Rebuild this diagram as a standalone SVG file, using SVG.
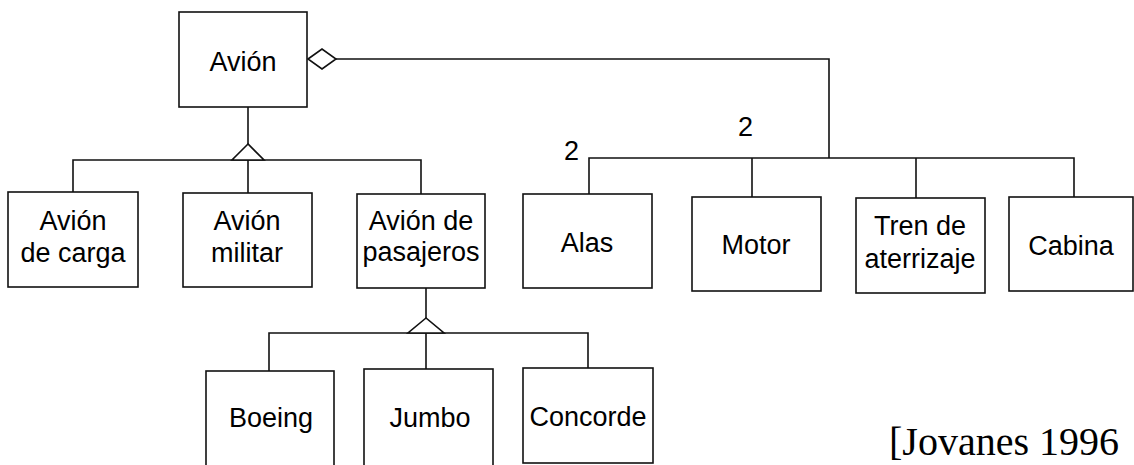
<svg xmlns="http://www.w3.org/2000/svg" width="1134" height="465" viewBox="0 0 1134 465">
<style>
.box{fill:#fff;stroke:#111;stroke-width:1.6}
.ln{fill:none;stroke:#111;stroke-width:1.6}
.sym{fill:#fff;stroke:#111;stroke-width:1.6}
text{font-family:"Liberation Sans",Arial,sans-serif;font-size:27px;fill:#000;text-anchor:middle}
.ref{font-family:"Liberation Serif","Times New Roman",serif;font-size:40px;text-anchor:start}
.mult{text-anchor:start}
</style>
<rect width="1134" height="465" fill="#fff"/>
<g id="connectors">
<path class="ln" d="M336,59 H829 V158"/>
<path class="ln" d="M589,194 V158 H1074 V197 M752,158 V197 M916,158 V198"/>
<path class="ln" d="M248,107 V144"/>
<path class="ln" d="M73,192 V160 H421 V194 M248,160 V193"/>
<polygon class="sym" points="248,144 232,160 264,160"/>
<path class="ln" d="M426,288 V318"/>
<path class="ln" d="M269,371 V333 H588 V368 M426,333 V369"/>
<polygon class="sym" points="426,318 408,333 444,333"/>
<polygon class="sym" points="308,59 322,49 336,59 322,69"/>
<text class="mult" x="564" y="160">2</text>
<text class="mult" x="738" y="136">2</text>
</g>
<g id="avion"><rect class="box" x="179" y="12" width="128" height="95"/><text x="243" y="71">Avión</text></g>
<g id="avion-carga"><rect class="box" x="8" y="192" width="130" height="95"/><text x="73" y="230">Avión</text><text x="73" y="262">de carga</text></g>
<g id="avion-militar"><rect class="box" x="183" y="193" width="129" height="94"/><text x="247" y="230">Avión</text><text x="247" y="262">militar</text></g>
<g id="avion-pasajeros"><rect class="box" x="357" y="194" width="128" height="94"/><text x="421" y="230">Avión de</text><text x="421" y="261">pasajeros</text></g>
<g id="alas"><rect class="box" x="523" y="194" width="129" height="94"/><text x="587" y="252">Alas</text></g>
<g id="motor"><rect class="box" x="692" y="197" width="129" height="94"/><text x="756" y="254">Motor</text></g>
<g id="tren"><rect class="box" x="856" y="198" width="129" height="95"/><text x="920" y="235">Tren de</text><text x="920" y="268">aterrizaje</text></g>
<g id="cabina"><rect class="box" x="1009" y="197" width="124" height="94"/><text x="1071" y="255">Cabina</text></g>
<g id="boeing"><rect class="box" x="206" y="371" width="128" height="100"/><text x="271" y="427">Boeing</text></g>
<g id="jumbo"><rect class="box" x="364" y="369" width="129" height="100"/><text x="430" y="427">Jumbo</text></g>
<g id="concorde"><rect class="box" x="523" y="368" width="130" height="95"/><text x="588" y="426">Concorde</text></g>
<text class="ref" x="889" y="455">[Jovanes 1996</text>
</svg>
